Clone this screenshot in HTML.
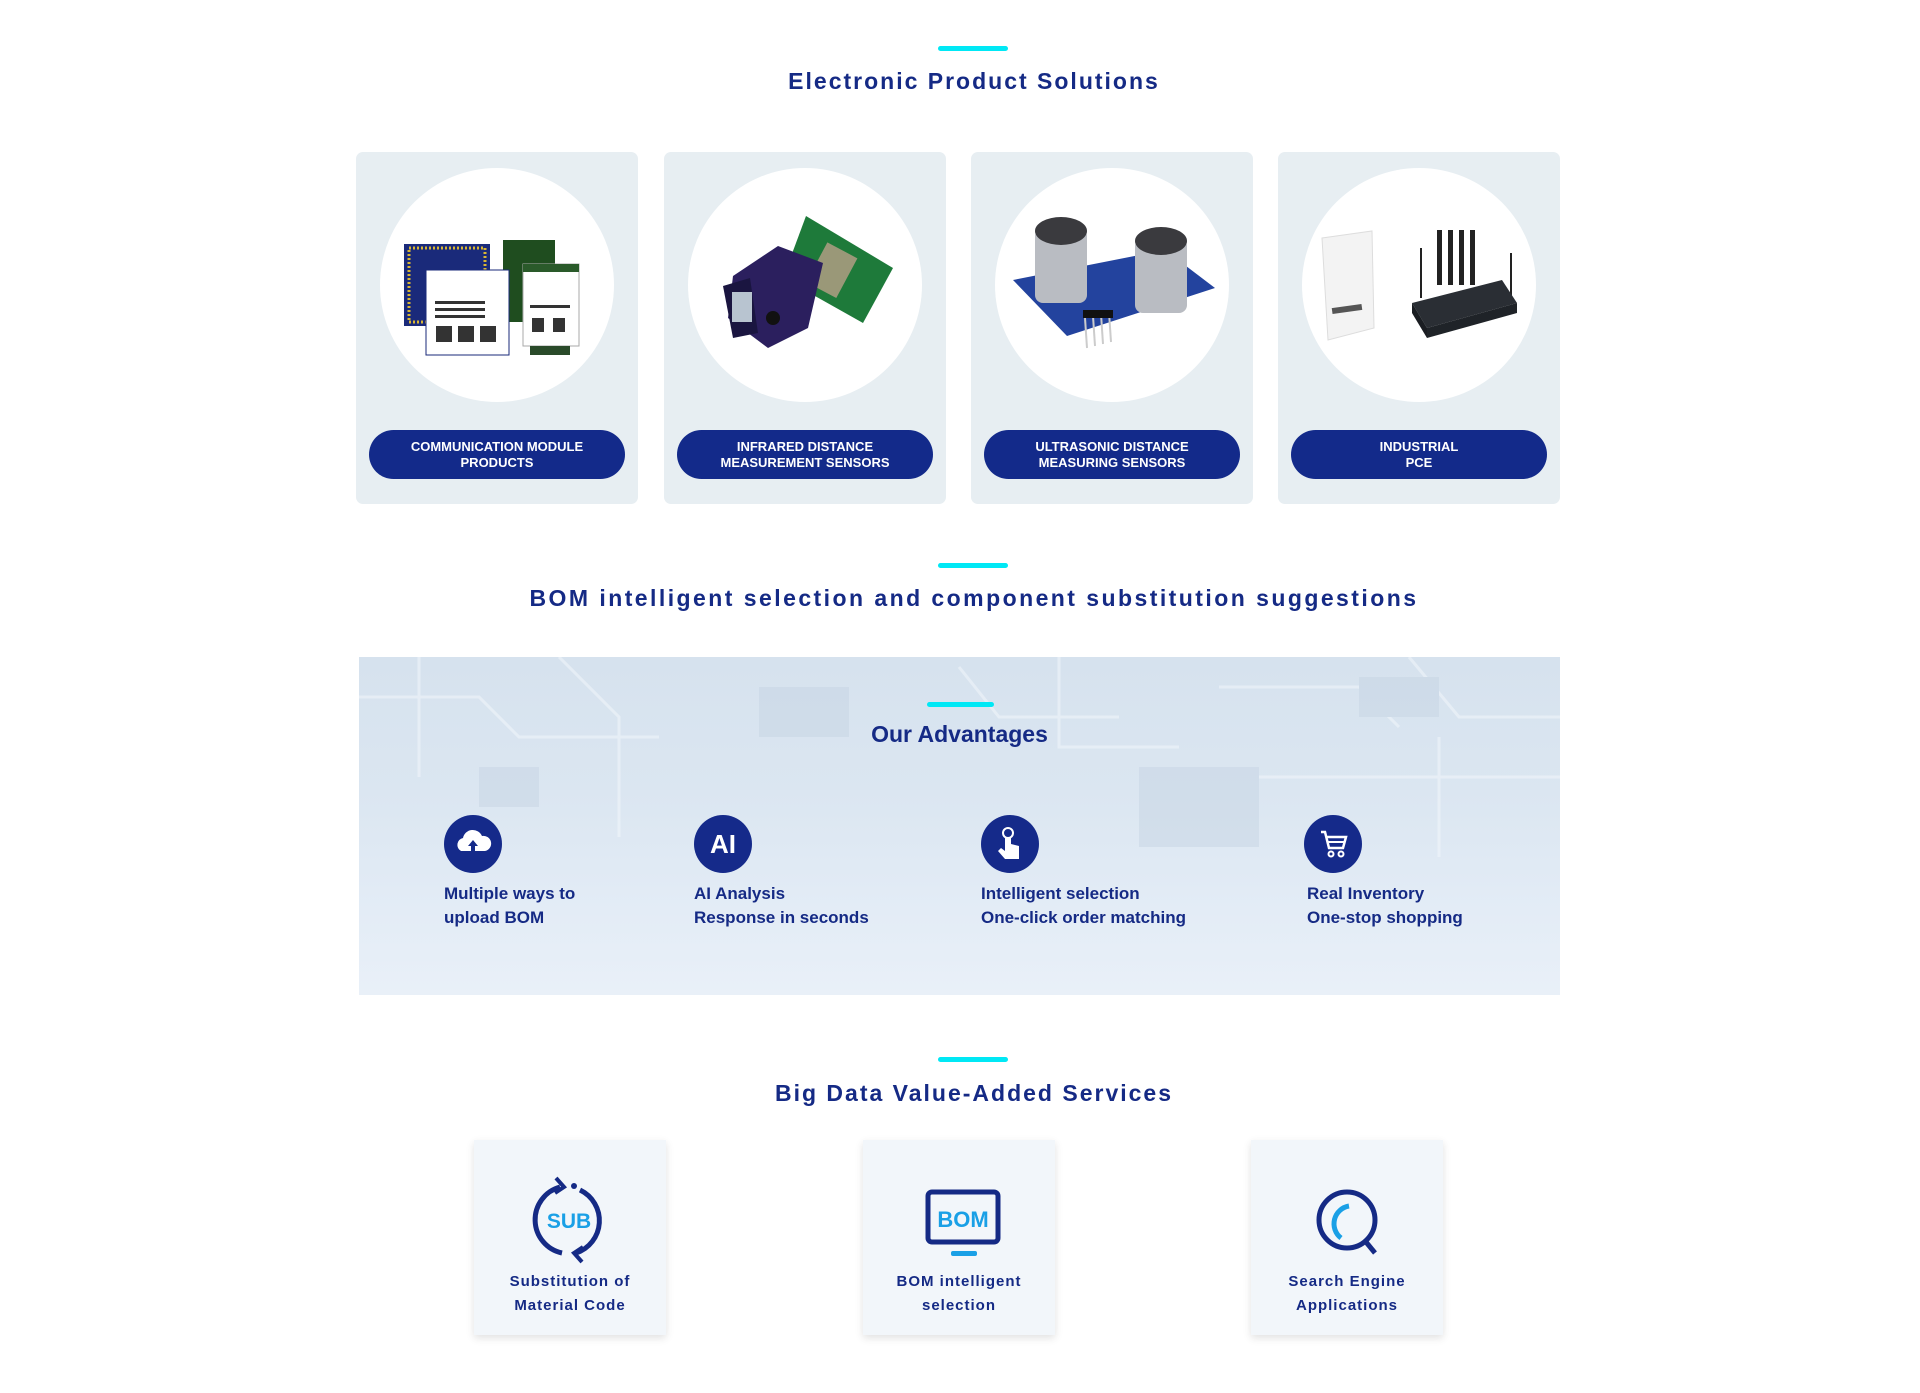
<!DOCTYPE html>
<html><head><meta charset="utf-8"><style>
*{margin:0;padding:0;box-sizing:border-box}
body{width:1920px;height:1393px;background:#fff;font-family:"Liberation Sans",sans-serif;position:relative;overflow:hidden;color:#152a85}
.abs{position:absolute}
.bar{position:absolute;height:5px;width:70px;background:#00e8f5;border-radius:3px}
.title{position:absolute;left:14px;width:1920px;text-align:center;font-weight:bold;font-size:23px;letter-spacing:2px;color:#152a85;line-height:30px}
.card{position:absolute;top:152px;width:282px;height:352px;background:#e7eef2;border-radius:7px}
.circ{position:absolute;left:24px;top:16px;width:234px;height:234px;border-radius:50%;background:#fff;overflow:hidden}
.pill{position:absolute;left:13px;top:278px;width:256px;height:49px;border-radius:25px;background:#132a8a;color:#fff;font-weight:bold;font-size:13px;line-height:16px;text-align:center;padding-top:9px}
.banner{position:absolute;left:359px;top:657px;width:1201px;height:338px;overflow:hidden;background:linear-gradient(180deg,#d6e2ee 0%,#dbe6f1 40%,#e3ecf6 75%,#e9f0f8 100%)}
.ic{position:absolute;top:815px;width:58px;height:58px;border-radius:50%;background:#152a8a}
.adv{position:absolute;top:882px;font-weight:bold;font-size:17px;line-height:24px;color:#152a85}
.svc{position:absolute;top:1140px;width:192px;height:195px;background:#f2f6fa;box-shadow:0 3px 8px rgba(0,0,0,0.12)}
.svc .lbl{position:absolute;left:0;top:130px;width:100%;text-align:center;font-weight:bold;font-size:15px;letter-spacing:1px;line-height:24px;color:#152a85}
</style></head><body>

<div class="bar" style="left:938px;top:46px"></div>
<div class="title" style="top:66px">Electronic Product Solutions</div>

<div class="card" style="left:356px"><div class="circ">
<svg width="234" height="234" viewBox="0 0 234 234">
<rect x="24" y="76" width="86" height="82" fill="#1a2a7a"/>
<rect x="29" y="80" width="76" height="74" fill="none" stroke="#d9b634" stroke-width="3" stroke-dasharray="2 2"/>
<rect x="123" y="72" width="52" height="82" fill="#1f4d1f"/>
<rect x="46" y="102" width="83" height="85" fill="#fff" stroke="#1a2a7a" stroke-width="1"/>
<rect x="55" y="133" width="50" height="3" fill="#333"/><rect x="55" y="140" width="50" height="3" fill="#333"/><rect x="55" y="147" width="50" height="3" fill="#333"/>
<rect x="56" y="158" width="16" height="16" fill="#333"/><rect x="78" y="158" width="16" height="16" fill="#333"/><rect x="100" y="158" width="16" height="16" fill="#333"/>
<rect x="143" y="96" width="56" height="82" fill="#fff" stroke="#aaa"/>
<rect x="143" y="96" width="56" height="8" fill="#2a5a2a"/>
<rect x="150" y="137" width="40" height="3" fill="#333"/>
<rect x="152" y="150" width="12" height="14" fill="#333"/><rect x="173" y="150" width="12" height="14" fill="#333"/>
<rect x="150" y="178" width="40" height="9" fill="#2a4a2a"/>
</svg></div><div class="pill">COMMUNICATION MODULE<br>PRODUCTS</div></div>

<div class="card" style="left:664px"><div class="circ">
<svg width="234" height="234" viewBox="0 0 234 234">
<polygon points="118,48 205,100 175,155 95,110" fill="#1e7a3a"/>
<rect x="128" y="80" width="34" height="45" fill="#9a9878" transform="rotate(28 145 100)"/>
<polygon points="45,108 90,78 135,95 120,160 80,180 40,150" fill="#2b1f5e"/>
<polygon points="35,118 62,110 70,165 45,170" fill="#1a1540"/>
<rect x="44" y="124" width="20" height="30" fill="#b8c4d0"/>
<circle cx="85" cy="150" r="7" fill="#111"/>
</svg></div><div class="pill">INFRARED DISTANCE<br>MEASUREMENT SENSORS</div></div>

<div class="card" style="left:971px"><div class="circ">
<svg width="234" height="234" viewBox="0 0 234 234">
<polygon points="18,112 170,82 220,120 72,168" fill="#23439e"/>
<rect x="40" y="60" width="52" height="75" rx="8" fill="#b9bcc2"/>
<ellipse cx="66" cy="63" rx="26" ry="14" fill="#3a3a3e"/>
<rect x="140" y="70" width="52" height="75" rx="8" fill="#b9bcc2"/>
<ellipse cx="166" cy="73" rx="26" ry="14" fill="#3a3a3e"/>
<g stroke="#ccc" stroke-width="2"><line x1="90" y1="150" x2="92" y2="180"/><line x1="98" y1="148" x2="100" y2="178"/><line x1="106" y1="146" x2="108" y2="176"/><line x1="114" y1="144" x2="116" y2="174"/></g>
<rect x="88" y="142" width="30" height="8" fill="#111"/>
</svg></div><div class="pill">ULTRASONIC DISTANCE<br>MEASURING SENSORS</div></div>

<div class="card" style="left:1278px"><div class="circ">
<svg width="234" height="234" viewBox="0 0 234 234">
<polygon points="20,70 70,63 72,160 26,172" fill="#f3f3f3" stroke="#ddd"/>
<rect x="30" y="138" width="30" height="6" fill="#555" transform="rotate(-8 45 141)"/>
<g fill="#222"><rect x="135" y="62" width="5" height="55"/><rect x="146" y="62" width="5" height="55"/><rect x="157" y="62" width="5" height="55"/><rect x="168" y="62" width="5" height="55"/><rect x="118" y="80" width="2" height="50"/><rect x="208" y="85" width="2" height="45"/></g>
<polygon points="110,135 200,112 215,135 125,160" fill="#2a2e34"/>
<polygon points="110,135 125,160 125,170 110,145" fill="#1a1d22"/>
<polygon points="125,160 215,135 215,145 125,170" fill="#1f2328"/>
</svg></div><div class="pill">INDUSTRIAL<br>PCE</div></div>

<div class="bar" style="left:938px;top:563px"></div>
<div class="title" style="top:583px;letter-spacing:2.45px">BOM intelligent selection and component substitution suggestions</div>

<div class="banner">
<svg width="1201" height="338" style="position:absolute;left:0;top:0" opacity="0.5">
<g stroke="#f4f8fc" stroke-width="3" fill="none">
<path d="M0 40 L120 40 L160 80 L300 80"/><path d="M60 0 L60 120"/><path d="M200 0 L260 60 L260 180"/>
<path d="M700 0 L700 90 L820 90"/><path d="M860 30 L1000 30 L1040 70"/><path d="M1050 0 L1100 60 L1201 60"/>
<path d="M900 120 L1201 120"/><path d="M1080 80 L1080 200"/><path d="M600 10 L640 60 L760 60"/>
</g>
<g fill="#c7d5e4"><rect x="120" y="110" width="60" height="40"/><rect x="780" y="110" width="120" height="80"/><rect x="1000" y="20" width="80" height="40"/><rect x="400" y="30" width="90" height="50"/></g>
</svg>
<div class="abs" style="left:568px;top:45px;width:67px;height:5px;background:#00e8f5;border-radius:3px"></div>
<div class="abs" style="left:0;top:64px;width:1201px;text-align:center;font-weight:bold;font-size:23px;color:#152a85">Our Advantages</div>
</div>

<div class="ic" style="left:444px"><svg width="58" height="58"><path d="M17 36 a7 7 0 0 1 2-13 a10 10 0 0 1 19-2 a7 7 0 0 1 3 15 z" fill="#fff"/><path d="M29 25 l-5 6 h3 v6 h4 v-6 h3 z" fill="#152a8a"/></svg></div>
<div class="ic" style="left:694px;color:#fff;font-weight:bold;font-size:26px;text-align:center;line-height:58px">AI</div>
<div class="ic" style="left:981px"><svg width="58" height="58"><circle cx="27" cy="18" r="5" fill="none" stroke="#fff" stroke-width="2"/><path d="M24 22 v14 l-4-3 -3 3 7 8 h14 v-13 l-8-2 v-7 z" fill="#fff"/></svg></div>
<div class="ic" style="left:1304px"><svg width="58" height="58"><path d="M17 17 h4 l4 16 h14 l3-11 h-19" fill="none" stroke="#fff" stroke-width="2.5"/><line x1="24" y1="27" x2="40" y2="27" stroke="#fff" stroke-width="2"/><circle cx="27" cy="39" r="2.5" fill="none" stroke="#fff" stroke-width="2"/><circle cx="37" cy="39" r="2.5" fill="none" stroke="#fff" stroke-width="2"/></svg></div>

<div class="adv" style="left:444px">Multiple ways to<br>upload BOM</div>
<div class="adv" style="left:694px">AI Analysis<br>Response in seconds</div>
<div class="adv" style="left:981px">Intelligent selection<br>One-click order matching</div>
<div class="adv" style="left:1307px">Real Inventory<br>One-stop shopping</div>

<div class="bar" style="left:938px;top:1057px"></div>
<div class="title" style="top:1078px">Big Data Value-Added Services</div>

<div class="svc" style="left:474px">
<svg width="192" height="130" style="position:absolute;left:0;top:0">
<path d="M86 47 A34 34 0 0 0 88 113" fill="none" stroke="#152a85" stroke-width="5"/>
<path d="M102 113 A34 34 0 0 0 106 50" fill="none" stroke="#152a85" stroke-width="5"/>
<path d="M82 38 l8 9 -9 6" fill="none" stroke="#152a85" stroke-width="4"/>
<path d="M108 122 l-8 -9 9 -6" fill="none" stroke="#152a85" stroke-width="4"/>
<circle cx="100" cy="46" r="3" fill="#152a85"/>
<text x="95" y="88" text-anchor="middle" font-family="Liberation Sans" font-weight="bold" font-size="21" fill="#1aa0e6">SUB</text></svg>
<div class="lbl">Substitution of<br>Material Code</div></div>

<div class="svc" style="left:863px">
<svg width="192" height="130" style="position:absolute;left:0;top:0"><rect x="65" y="52" width="70" height="50" rx="4" fill="none" stroke="#152a85" stroke-width="5"/><text x="100" y="87" text-anchor="middle" font-family="Liberation Sans" font-weight="bold" font-size="22" fill="#1aa0e6">BOM</text><rect x="88" y="111" width="26" height="5" rx="2" fill="#1aa0e6"/></svg>
<div class="lbl">BOM intelligent<br>selection</div></div>

<div class="svc" style="left:1251px">
<svg width="192" height="130" style="position:absolute;left:0;top:0"><circle cx="96" cy="80" r="28" fill="none" stroke="#152a85" stroke-width="5"/><path d="M90 98 a18 18 0 0 1 8 -32" fill="none" stroke="#1aa0e6" stroke-width="5"/><line x1="115" y1="102" x2="124" y2="113" stroke="#152a85" stroke-width="5"/></svg>
<div class="lbl">Search Engine<br>Applications</div></div>

</body></html>
